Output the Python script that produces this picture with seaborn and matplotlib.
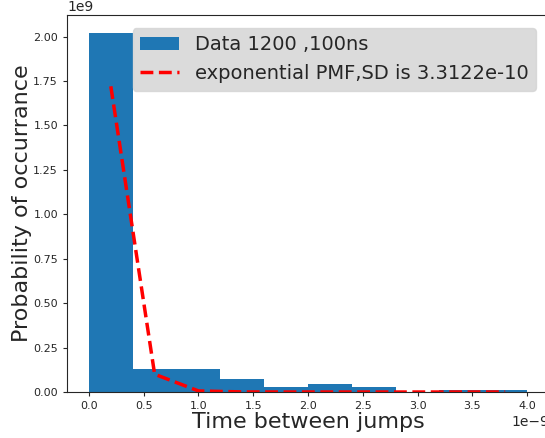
import matplotlib
matplotlib.use("Agg")
import matplotlib.pyplot as plt
import seaborn as sns
import numpy as np

# Histogram bins (seconds) and density heights
bin_edges = [0.0, 0.4e-9, 0.8e-9, 1.2e-9, 1.6e-9, 2.0e-9, 2.4e-9, 2.8e-9, 3.2e-9, 3.6e-9, 4.0e-9]
bin_heights = [2.02e9, 0.128e9, 0.128e9, 0.075e9, 0.026e9, 0.045e9, 0.026e9, 0.0, 0.011e9, 0.011e9]

# Exponential PMF at bin centers
pmf_x = [0.2e-9, 0.6e-9, 1.0e-9, 1.4e-9, 1.8e-9, 2.2e-9, 2.6e-9, 3.0e-9, 3.4e-9, 3.8e-9]
pmf_y = [1.72e9, 0.10e9, 0.006e9, 0.0004e9, 0.00002e9, 0.0, 0.0, 0.0, 0.0, 0.0]

hist_label = "Data 1200 ,100ns"
line_label = "exponential PMF,SD is 3.3122e-10"

sns.set_style("ticks")
plt.rcParams['font.family'] = ['DejaVu Sans']

fig = plt.figure(figsize=(5.45, 4.38), dpi=100)
ax = fig.add_axes([67/545, 1-392/438, (549-67)/545, (392-15)/438])

centers = [(bin_edges[i] + bin_edges[i+1]) / 2 for i in range(len(bin_heights))]
sns.histplot(x=centers, weights=bin_heights, bins=bin_edges, stat="count",
             color="#1f77b4", alpha=1.0, linewidth=0, ax=ax, label=hist_label)
sns.lineplot(x=pmf_x, y=pmf_y, color="red", linestyle="--", linewidth=2.5,
             ax=ax, label=line_label)

ax.set_xlim(-0.2e-9, 4.2e-9)
ax.set_ylim(0, 2.02e9 * 1.05)
ax.set_xlabel("Time between jumps", fontsize=16, labelpad=1)
ax.set_ylabel("Probability of occurrance", fontsize=16, labelpad=1)
ax.tick_params(labelsize=8, length=3)
for s in ax.spines.values():
    s.set_visible(True)
    s.set_linewidth(0.8)

handles, labels = ax.get_legend_handles_labels()
order = [labels.index(hist_label), labels.index(line_label)]
leg = ax.legend([handles[i] for i in order], [labels[i] for i in order],
                loc="upper right", fontsize=14, facecolor="lightgray", framealpha=0.8,
                edgecolor="lightgray", bbox_to_anchor=(0.0, 0.0, 1.0 - 3/482, 1.0 - 3/377))

fig.savefig("out.png", dpi=100)
